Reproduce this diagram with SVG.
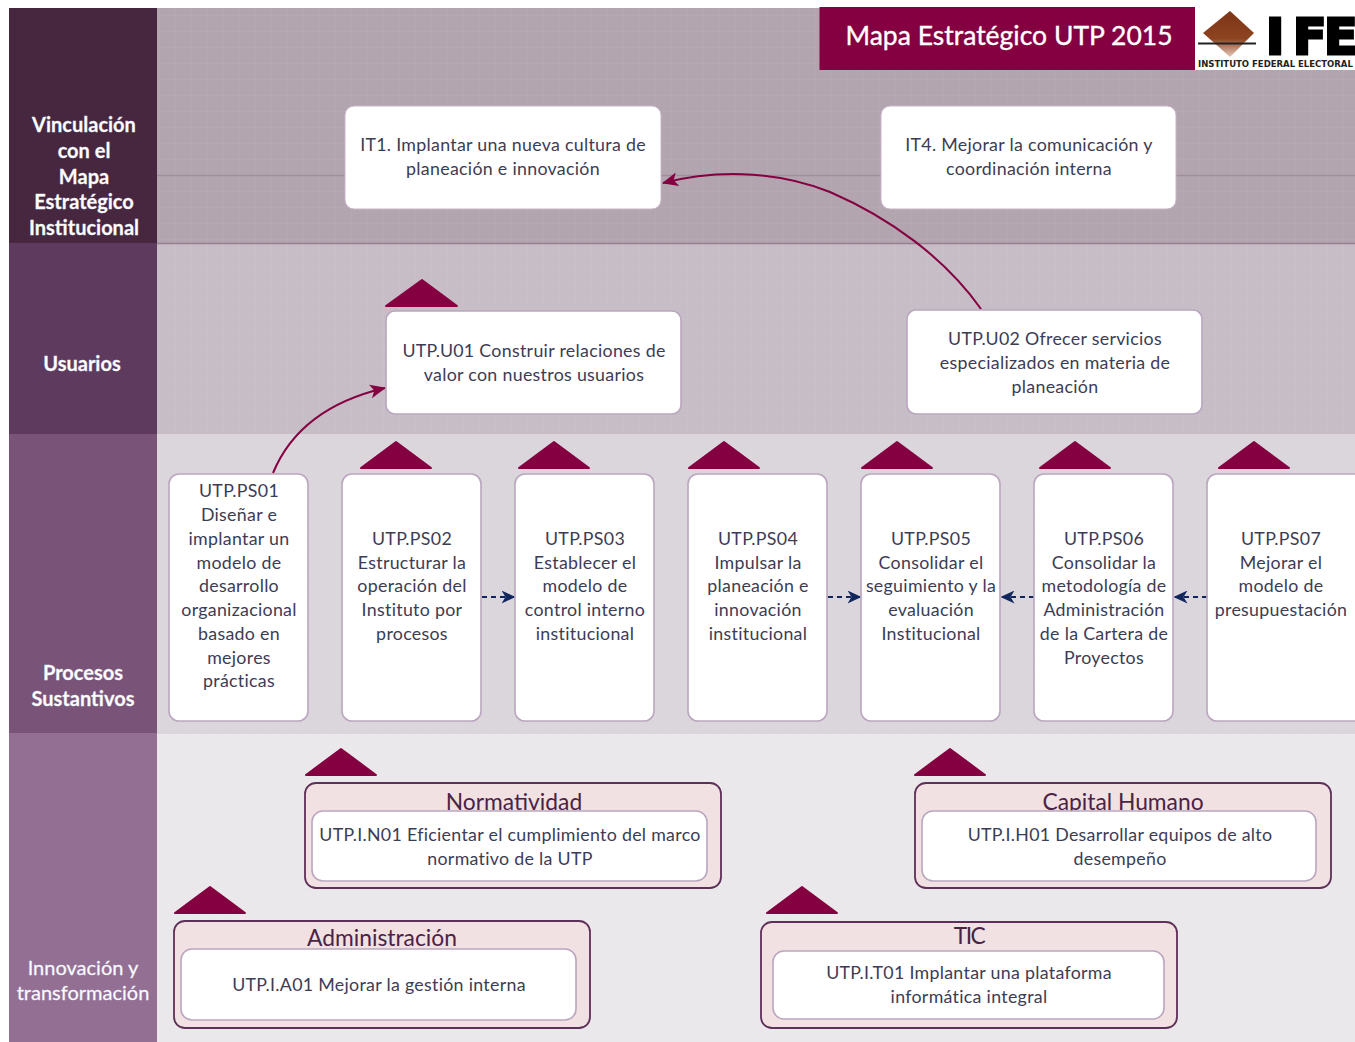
<svg xmlns="http://www.w3.org/2000/svg" width="1355" height="1042" viewBox="0 0 1355 1042">
<style>
text{font-family:Lato,"Liberation Sans",sans-serif;text-anchor:middle}
.n{font-size:17.8px;letter-spacing:.3px;fill:#3c3c54}
.h{font-size:20px;font-weight:700;fill:#fff;stroke:#dfe6f5;stroke-width:.3px}
.g{font-size:22.8px;fill:#4a2347}
.box{fill:#fff;stroke:#bba6bf;stroke-width:1.6}
.top{fill:#fff;stroke:#c9b4c9;stroke-width:1}
.outer{fill:#f1e1e2;stroke:#5e3058;stroke-width:1.8}
.tri{fill:#850040;stroke:#850040;stroke-width:2;stroke-linejoin:round}
.cv{fill:none;stroke:#850040;stroke-width:2}
.ds{fill:none;stroke:#12265e;stroke-width:2;stroke-dasharray:5 4}
.lg{font-family:"DejaVu Sans",sans-serif;font-weight:700;text-anchor:start}
</style>
<defs>
<marker id="ar" markerWidth="16" markerHeight="14" refX="15" refY="7" orient="auto" markerUnits="userSpaceOnUse" viewBox="0 0 16 14"><path d="M0 0 L16 7 L0 14 L4 7Z" fill="#850040"/></marker>
<marker id="ad" markerWidth="14" markerHeight="13" refX="13.500" refY="6.500" orient="auto" markerUnits="userSpaceOnUse" viewBox="0 0 14 13"><path d="M0 0 L14 6.500 L0 13 L4 6.500Z" fill="#12265e"/></marker>
<linearGradient id="lg" x1="0" y1="0" x2="0" y2="1"><stop offset="0" stop-color="#7d3418"/><stop offset=".6" stop-color="#8c4420"/><stop offset="1" stop-color="#e6c8ba"/></linearGradient>
<pattern id="grid" width="16" height="16" patternUnits="userSpaceOnUse"><path d="M16 0V16H0" fill="none" stroke="#fff" stroke-opacity=".06"/></pattern>
</defs>
<rect width="1355" height="1042" fill="#fff"/>
<g id="bands">
<rect x="157" y="8" width="1198" height="235" fill="#b3a5b0"/>
<rect x="157" y="243" width="1198" height="191" fill="#c7bdc7"/>
<rect x="157" y="434" width="1198" height="300" fill="#dbd5dc"/>
<rect x="157" y="734" width="1198" height="308" fill="#ebe8ec"/>
<rect x="157" y="8" width="1198" height="1034" fill="url(#grid)"/>
<rect x="9" y="8" width="148" height="235" fill="#47273f"/>
<rect x="9" y="243" width="148" height="191" fill="#5e3a5e"/>
<rect x="9" y="434" width="148" height="299" fill="#7a5379"/>
<rect x="9" y="733" width="148" height="309" fill="#946f94"/>
<path d="M157 175.500H1355" stroke="#a08e9c" stroke-width="1.500"/>
<path d="M157 243.500H1355" stroke="#957f90" stroke-width="1.500"/>
<text class="h" x="84" y="132">Vinculación</text>
<text class="h" x="84" y="158">con el</text>
<text class="h" x="84" y="184">Mapa</text>
<text class="h" x="84" y="209">Estratégico</text>
<text class="h" x="84" y="235">Institucional</text>
<text class="h" x="82" y="371">Usuarios</text>
<text class="h" x="83" y="680">Procesos</text>
<text class="h" x="83" y="706">Sustantivos</text>
<text class="h" x="83" y="975" style="font-weight:400">Innovación y</text>
<text class="h" x="83" y="1000" style="font-weight:400">transformación</text>
</g>
<g id="title">
<rect x="819.500" y="7" width="375.500" height="63" fill="#850040"/>
<text x="1009" y="45" font-size="26.500" fill="#fff" stroke="#fff" stroke-width=".35">Mapa Estratégico UTP 2015</text>
</g>
<g id="logo">
<rect x="1195" y="7" width="160" height="63" fill="#fff"/>
<path d="M1230 11 L1254 33 L1230 57 L1203 33Z" fill="url(#lg)"/>
<path d="M1198 43.500H1256" stroke="#222" stroke-width="2"/>
<text class="lg" x="1266 1293 1324" y="53.500" font-size="49" fill="#000" stroke="#000" stroke-width="3">IFE</text>
<text class="lg" x="1198" y="67" font-size="8.500" fill="#222">INSTITUTO FEDERAL ELECTORAL</text>
</g>
<g id="connectors">
<path class="cv" d="M981 309 C945 258 890 218 830 192 C785 174 725 167 663 183" marker-end="url(#ar)"/>
<path class="cv" d="M273 473 C290 432 325 402 385 388" marker-end="url(#ar)"/>
<path class="ds" d="M482 597H515" marker-end="url(#ad)"/>
<path class="ds" d="M828 597H861" marker-end="url(#ad)"/>
<path class="ds" d="M1034 597H1001" marker-end="url(#ad)"/>
<path class="ds" d="M1207 597H1174" marker-end="url(#ad)"/>
</g>
<g id="triangles">
<path class="tri" d="M422 280L457 306H386Z"/>
<path class="tri" d="M396 442L431 468H361Z"/>
<path class="tri" d="M554 442L589 468H519Z"/>
<path class="tri" d="M724 442L759 468H689Z"/>
<path class="tri" d="M897 442L932 468H862Z"/>
<path class="tri" d="M1075 442L1110 468H1040Z"/>
<path class="tri" d="M1254 442L1289 468H1219Z"/>
<path class="tri" d="M341 749L376 775H306Z"/>
<path class="tri" d="M950 749L985 775H915Z"/>
<path class="tri" d="M210 887L245 913H175Z"/>
<path class="tri" d="M802 887L837 913H767Z"/>
</g>
<g id="IT1"><rect class="top" x="345" y="106" width="316" height="103" rx="9"/>
<text class="n" x="503" y="151">IT1. Implantar una nueva cultura de</text><text class="n" x="503" y="175">planeación e innovación</text></g>
<g id="IT4"><rect class="top" x="881" y="106" width="295" height="103" rx="9"/>
<text class="n" x="1029" y="151">IT4. Mejorar la comunicación y</text><text class="n" x="1029" y="175">coordinación interna</text></g>
<g id="U01"><rect class="box" x="386" y="311" width="295" height="103" rx="9"/>
<text class="n" x="534" y="357">UTP.U01 Construir relaciones de</text><text class="n" x="534" y="381">valor con nuestros usuarios</text></g>
<g id="U02"><rect class="box" x="907" y="310" width="295" height="104" rx="9"/>
<text class="n" x="1055" y="345">UTP.U02 Ofrecer servicios</text><text class="n" x="1055" y="369">especializados en materia de</text><text class="n" x="1055" y="393">planeación</text></g>
<g id="PS01"><rect class="box" x="169" y="474" width="139" height="247" rx="10"/>
<text class="n" x="239" y="497">UTP.PS01</text><text class="n" x="239" y="521">Diseñar e</text><text class="n" x="239" y="545">implantar un</text><text class="n" x="239" y="569">modelo de</text><text class="n" x="239" y="592">desarrollo</text><text class="n" x="239" y="616">organizacional</text><text class="n" x="239" y="640">basado en</text><text class="n" x="239" y="664">mejores</text><text class="n" x="239" y="687">prácticas</text></g>
<g id="PS02"><rect class="box" x="342" y="474" width="139" height="247" rx="10"/>
<text class="n" x="412" y="545">UTP.PS02</text><text class="n" x="412" y="569">Estructurar la</text><text class="n" x="412" y="592">operación del</text><text class="n" x="412" y="616">Instituto por</text><text class="n" x="412" y="640">procesos</text></g>
<g id="PS03"><rect class="box" x="515" y="474" width="139" height="247" rx="10"/>
<text class="n" x="585" y="545">UTP.PS03</text><text class="n" x="585" y="569">Establecer el</text><text class="n" x="585" y="592">modelo de</text><text class="n" x="585" y="616">control interno</text><text class="n" x="585" y="640">institucional</text></g>
<g id="PS04"><rect class="box" x="688" y="474" width="139" height="247" rx="10"/>
<text class="n" x="758" y="545">UTP.PS04</text><text class="n" x="758" y="569">Impulsar la</text><text class="n" x="758" y="592">planeación e</text><text class="n" x="758" y="616">innovación</text><text class="n" x="758" y="640">institucional</text></g>
<g id="PS05"><rect class="box" x="861" y="474" width="139" height="247" rx="10"/>
<text class="n" x="931" y="545">UTP.PS05</text><text class="n" x="931" y="569">Consolidar el</text><text class="n" x="931" y="592">seguimiento y la</text><text class="n" x="931" y="616">evaluación</text><text class="n" x="931" y="640">Institucional</text></g>
<g id="PS06"><rect class="box" x="1034" y="474" width="139" height="247" rx="10"/>
<text class="n" x="1104" y="545">UTP.PS06</text><text class="n" x="1104" y="569">Consolidar la</text><text class="n" x="1104" y="592">metodología de</text><text class="n" x="1104" y="616">Administración</text><text class="n" x="1104" y="640">de la Cartera de</text><text class="n" x="1104" y="664">Proyectos</text></g>
<g id="PS07"><rect class="box" x="1207" y="474" width="160" height="247" rx="10"/>
<text class="n" x="1281" y="545">UTP.PS07</text><text class="n" x="1281" y="569">Mejorar el</text><text class="n" x="1281" y="592">modelo de</text><text class="n" x="1281" y="616">presupuestación</text></g>
<g id="Normatividad"><rect class="outer" x="305" y="783" width="416" height="105" rx="11"/>
<text class="g" x="514" y="810">Normatividad</text>
<rect class="box" x="312" y="811" width="395" height="70" rx="11"/>
<text class="n" x="510" y="841">UTP.I.N01 Eficientar el cumplimiento del marco</text><text class="n" x="510" y="865">normativo de la UTP</text></g>
<g id="CapitalHumano"><rect class="outer" x="915" y="783" width="416" height="105" rx="11"/>
<text class="g" x="1123" y="810">Capital Humano</text>
<rect class="box" x="922" y="811" width="394" height="70" rx="11"/>
<text class="n" x="1120" y="841">UTP.I.H01 Desarrollar equipos de alto</text><text class="n" x="1120" y="865">desempeño</text></g>
<g id="Administracion"><rect class="outer" x="174" y="921" width="416" height="107" rx="11"/>
<text class="g" x="382" y="946">Administración</text>
<rect class="box" x="181" y="949" width="395" height="71" rx="11"/>
<text class="n" x="379" y="991">UTP.I.A01 Mejorar la gestión interna</text></g>
<g id="TIC"><rect class="outer" x="761" y="922" width="416" height="106" rx="11"/>
<text class="g" x="969" y="944" style="letter-spacing:-1.5px">TIC</text>
<rect class="box" x="773" y="951" width="391" height="68" rx="11"/>
<text class="n" x="969" y="979">UTP.I.T01 Implantar una plataforma</text><text class="n" x="969" y="1003">informática integral</text></g>
</svg>
